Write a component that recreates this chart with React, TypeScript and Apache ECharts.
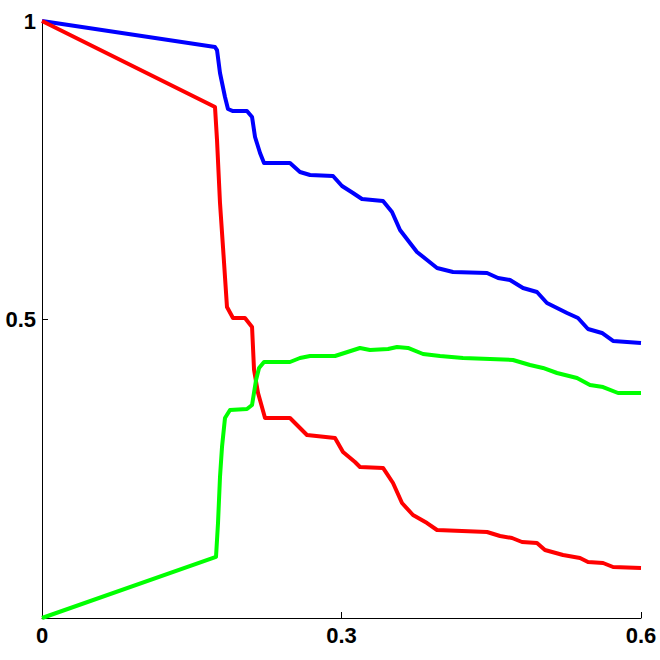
import React, { useEffect, useRef } from "react";
import * as echarts from "echarts";

const blueX = [0, 0.1733, 0.1753, 0.1783, 0.1833, 0.1863, 0.1913, 0.2053, 0.2104, 0.2134, 0.2184, 0.2224, 0.2484, 0.2584, 0.2685, 0.2915, 0.3005, 0.3115, 0.3205, 0.3416, 0.3506, 0.3586, 0.3686, 0.3756, 0.3857, 0.3957, 0.4117, 0.4458, 0.4568, 0.4688, 0.4818, 0.4958, 0.5058, 0.5259, 0.5369, 0.5469, 0.5609, 0.572, 0.6];
const blueY = [1, 0.9564, 0.9514, 0.9129, 0.8727, 0.8526, 0.8492, 0.8492, 0.8392, 0.8057, 0.7789, 0.7621, 0.7621, 0.7471, 0.742, 0.7404, 0.7236, 0.7119, 0.7018, 0.6985, 0.6801, 0.6499, 0.6281, 0.6131, 0.5997, 0.5863, 0.5796, 0.5779, 0.5695, 0.5662, 0.5528, 0.5461, 0.5276, 0.5109, 0.5025, 0.4841, 0.4774, 0.464, 0.4606];

const redX = [0, 0.1733, 0.1753, 0.1783, 0.1813, 0.1853, 0.1913, 0.2033, 0.2104, 0.2124, 0.2164, 0.2234, 0.2484, 0.2654, 0.2935, 0.3015, 0.3135, 0.3185, 0.3416, 0.3516, 0.3606, 0.3716, 0.3857, 0.3957, 0.4458, 0.4588, 0.4708, 0.4808, 0.4958, 0.5038, 0.5219, 0.5389, 0.5469, 0.562, 0.572, 0.6];
const redY = [1, 0.8559, 0.8007, 0.6951, 0.6214, 0.5209, 0.5025, 0.5025, 0.4874, 0.4154, 0.3769, 0.335, 0.335, 0.3065, 0.3015, 0.2781, 0.2613, 0.2529, 0.2513, 0.2261, 0.1926, 0.1725, 0.1591, 0.1474, 0.1441, 0.1374, 0.134, 0.1273, 0.1256, 0.1139, 0.1055, 0.1005, 0.0938, 0.0921, 0.0854, 0.0838];

const greenX = [0, 0.1743, 0.1763, 0.1783, 0.1803, 0.1833, 0.1883, 0.2053, 0.2104, 0.2144, 0.2174, 0.2224, 0.2484, 0.2584, 0.2685, 0.2935, 0.3185, 0.3285, 0.3466, 0.3556, 0.3666, 0.3817, 0.3987, 0.4217, 0.4488, 0.4718, 0.4888, 0.5018, 0.5159, 0.5359, 0.5489, 0.562, 0.577, 0.6];
const greenY = [0, 0.1022, 0.1591, 0.2362, 0.2864, 0.335, 0.3484, 0.3501, 0.3568, 0.3987, 0.4188, 0.4288, 0.4288, 0.4355, 0.4389, 0.4389, 0.4523, 0.4489, 0.4506, 0.4539, 0.4523, 0.4422, 0.4389, 0.4355, 0.4338, 0.4322, 0.4238, 0.4188, 0.4104, 0.402, 0.3903, 0.3869, 0.3769, 0.3769];

const xTicks = [0, 0.3, 0.6];
const yTicks = [0, 0.5, 1];

const zip = (xs: number[], ys: number[]) => xs.map((x, i) => [x, ys[i]]);

export default function App() {
  const ref = useRef<HTMLDivElement>(null);
  useEffect(() => {
    if (!ref.current) return;
    const chart = echarts.init(ref.current, null, { renderer: "svg" });
    const labelStyle = {
      color: "#000",
      fontSize: 22,
      fontWeight: "bold" as const,
      fontFamily: "Liberation Sans, Arial, sans-serif",
    };
    chart.setOption({
      animation: false,
      backgroundColor: "#fff",
      grid: { left: 42, right: 19, top: 21, bottom: 42, containLabel: false },
      xAxis: {
        type: "value",
        min: xTicks[0],
        max: xTicks[xTicks.length - 1],
        interval: xTicks[1] - xTicks[0],
        axisLine: { show: true, onZero: false, lineStyle: { color: "#000", width: 1 } },
        axisTick: { show: true, inside: true, length: 6, lineStyle: { color: "#000" } },
        splitLine: { show: false },
        axisLabel: { ...labelStyle, margin: 6 },
      },
      yAxis: {
        type: "value",
        min: yTicks[0],
        max: yTicks[yTicks.length - 1],
        interval: yTicks[1] - yTicks[0],
        axisLine: { show: true, onZero: false, lineStyle: { color: "#000", width: 1 } },
        axisTick: { show: true, inside: true, length: 6, lineStyle: { color: "#000" } },
        splitLine: { show: false },
        axisLabel: { ...labelStyle, margin: 6, showMinLabel: false },
      },
      series: [
        {
          type: "line",
          data: zip(blueX, blueY),
          showSymbol: false,
          symbol: "none",
          lineStyle: { color: "#0000ff", width: 4, join: "round" },
          itemStyle: { color: "#0000ff" },
        },
        {
          type: "line",
          data: zip(redX, redY),
          showSymbol: false,
          symbol: "none",
          lineStyle: { color: "#ff0000", width: 4, join: "round" },
          itemStyle: { color: "#ff0000" },
        },
        {
          type: "line",
          data: zip(greenX, greenY),
          showSymbol: false,
          symbol: "none",
          lineStyle: { color: "#00ff00", width: 4, join: "round" },
          itemStyle: { color: "#00ff00" },
        },
      ],
    });
    return () => chart.dispose();
  }, []);
  return (
    <div
      ref={ref}
      style={{ position: "absolute", left: 0, top: 0, width: 660, height: 660 }}
    />
  );
}
